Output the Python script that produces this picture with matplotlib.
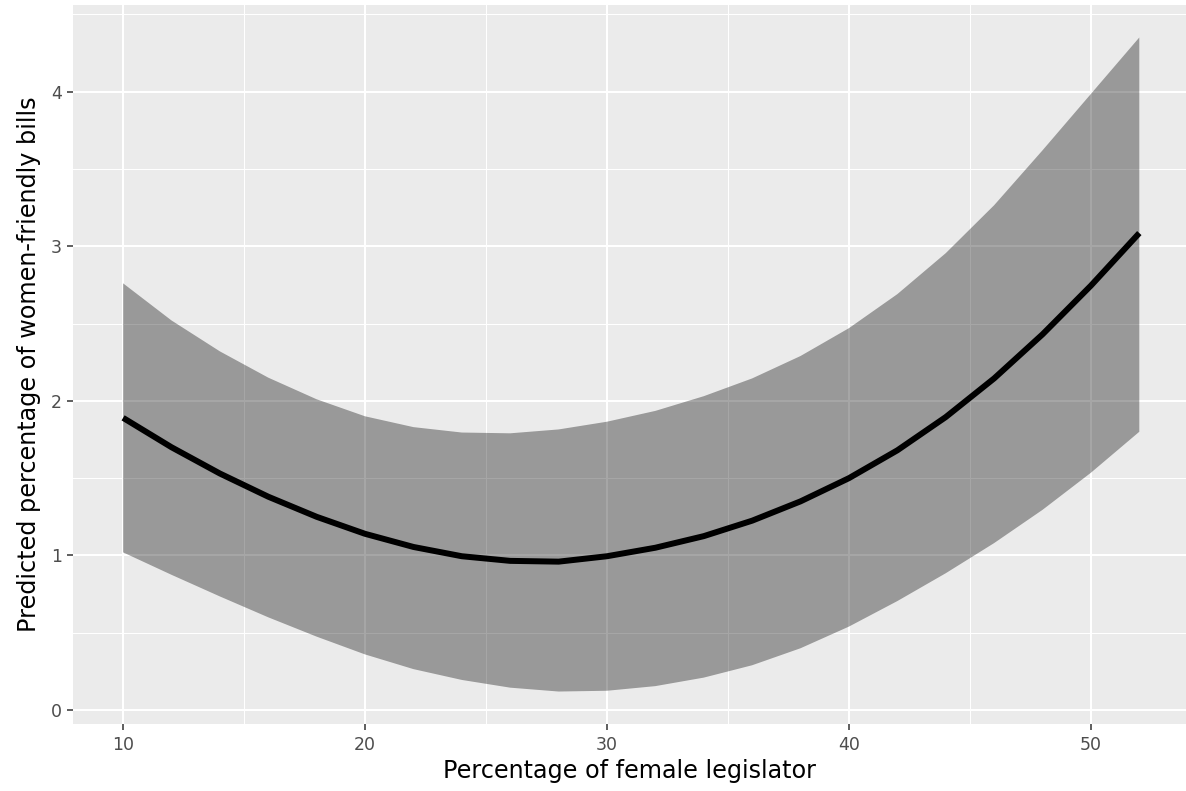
import numpy as np
import matplotlib
matplotlib.use("Agg")
import matplotlib.pyplot as plt
from matplotlib.ticker import MultipleLocator

# percentage of female legislators (x) and predicted values
pct_female = [10, 12, 14, 16, 18, 20, 22, 24, 26, 28, 30,
              32, 34, 36, 38, 40, 42, 44, 46, 48, 50, 52]
predicted = [1.89, 1.70, 1.53, 1.38, 1.25, 1.14, 1.055, 0.995, 0.965, 0.96, 0.995,
             1.05, 1.125, 1.225, 1.35, 1.50, 1.68, 1.895, 2.145, 2.43, 2.745, 3.085]
upper_ci = [2.76, 2.52, 2.32, 2.15, 2.01, 1.90, 1.83, 1.795, 1.79, 1.815, 1.865,
            1.935, 2.03, 2.145, 2.29, 2.47, 2.69, 2.955, 3.265, 3.62, 3.985, 4.35]
lower_ci = [1.02, 0.875, 0.735, 0.60, 0.475, 0.36, 0.265, 0.195, 0.145, 0.12, 0.125,
            0.155, 0.21, 0.29, 0.40, 0.54, 0.705, 0.885, 1.08, 1.295, 1.535, 1.80]

x_ticks = [10, 20, 30, 40, 50]
y_ticks = [0, 1, 2, 3, 4]

W, H = 1186, 791
fig = plt.figure(figsize=(W / 100, H / 100), dpi=100)
fig.patch.set_facecolor("white")
ax = fig.add_axes([73 / W, (H - 724) / H, 1 - 73 / W, (724 - 5) / H])

ax.set_facecolor("#EBEBEB")
for s in ax.spines.values():
    s.set_visible(False)

ax.set_xlim(7.93, 53.93)
ax.set_ylim(-0.09, 4.56)
ax.set_xticks(x_ticks)
ax.set_yticks(y_ticks)
ax.xaxis.set_minor_locator(MultipleLocator(5))
ax.yaxis.set_minor_locator(MultipleLocator(0.5))

ax.grid(which="major", color="white", linewidth=1.5)
ax.grid(which="minor", color="white", linewidth=0.75)
ax.set_axisbelow(True)

ax.tick_params(which="major", length=4, width=1.1, color="#333333",
               labelcolor="#4D4D4D", labelsize=12.5)
ax.tick_params(axis="x", which="major", pad=5)
ax.tick_params(axis="y", which="major", pad=4)
ax.tick_params(which="minor", length=0)

ax.fill_between(pct_female, lower_ci, upper_ci, facecolor="black",
                alpha=0.35, linewidth=0)
ax.plot(pct_female, predicted, color="black", linewidth=4.3,
        solid_capstyle="butt", solid_joinstyle="round")

ax.set_xlabel("Percentage of female legislator", fontsize=17.2,
              color="black", labelpad=3)
ax.set_ylabel("Predicted percentage of women-friendly bills", fontsize=17.2,
              color="black", labelpad=7)

fig.savefig("out.png", dpi=100)
